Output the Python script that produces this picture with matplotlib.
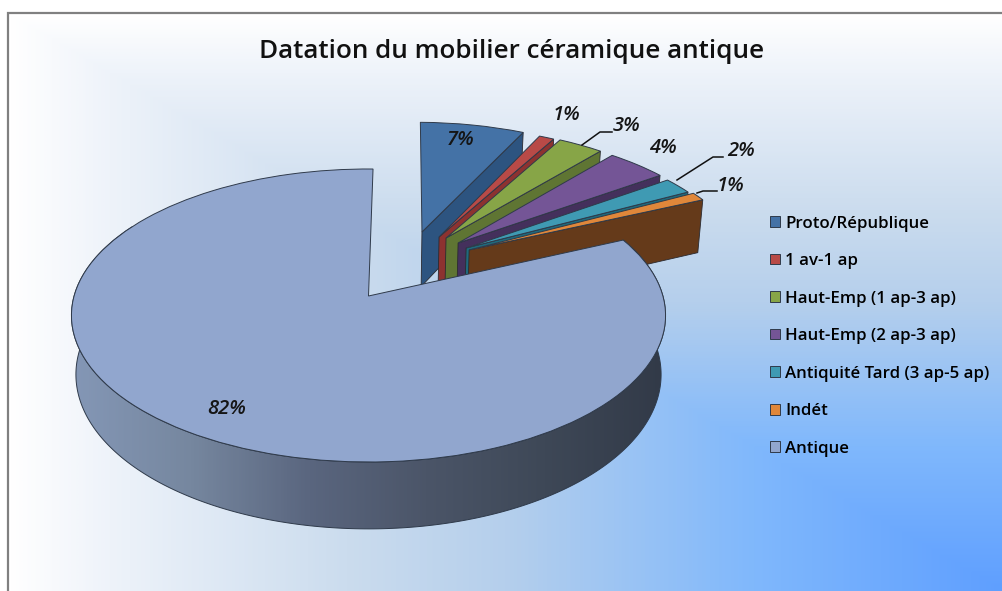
import numpy as np
import matplotlib
matplotlib.use('Agg')
import matplotlib.pyplot as plt
from matplotlib.colors import LinearSegmentedColormap
from matplotlib.patches import Polygon
from matplotlib.transforms import Transform

title = 'Datation du mobilier céramique antique'
categories = ['Proto/République', '1 av-1 ap', 'Haut-Emp (1 ap-3 ap)', 'Haut-Emp (2 ap-3 ap)',
              'Antiquité Tard (3 ap-5 ap)', 'Indét', 'Antique']
values = [7, 1, 3, 4, 2, 1, 82]
pct_labels = ['7%', '1%', '3%', '4%', '2%', '1%', '82%']

top_colors = ['#4472a6', '#b84a47', '#87a547', '#745596', '#3f9ab3', '#e0873a', '#91a6ce']
side_colors = ['#2d5480', '#8d3230', '#5f7533', '#44305c', '#1f6a7d', '#653a1a', '#4b5568']

# where each slice was pulled to, in disc units
slice_centers = [(.193, .473), (.2535, .4336), (.2783, .4258), (.320, .387), (.347, .349), (.357, .334), (0, 0)]
slice_radius = [.965, .97, .97, .97, .965, .975, 1.0]

label_pos = [(461, 140), (567, 115), (627, 126), (663, 148), (741, 151), (731, 186), (227, 409)]
leaders = {2: [(582, 145), (600, 132), (612, 132)],
           4: [(677, 180), (713, 157), (723, 157)],
           5: [(697, 193), (703, 191), (717, 191)]}

CX, CY = 368.5, 296.0
A, B, K = 294.4, 143.9, 0.133
DEPTH = 58.0


class Persp(Transform):
    input_dims = 2
    output_dims = 2
    has_inverse = False

    def __init__(self, sx=1.0, drop=0.0):
        super().__init__()
        self.sx = sx
        self.drop = drop

    def transform_non_affine(self, xy):
        xy = np.asarray(xy, dtype=float)
        w = 1 + K * xy[:, 1]
        return np.column_stack([CX + self.sx * A * xy[:, 0] / w, CY - (B * xy[:, 1] - self.drop) / w])


upper = Persp()
lower = Persp(.985, DEPTH)

fig = plt.figure(figsize=(10.03, 5.91), dpi=100)
ax = fig.add_axes([0, 0, 1, 1])

wedges, _ = ax.pie(values, colors=top_colors, startangle=89, counterclock=False,
                   wedgeprops={'edgecolor': '#2f3a4a', 'linewidth': 0.7})

ax.set_aspect('auto')
ax.set_xlim(0, 1003)
ax.set_ylim(591, 0)
ax.axis('off')

# background, rectangular gradient from the top left corner
yy, xx = np.mgrid[0:1:300j, 0:1:500j]
bg_cmap = LinearSegmentedColormap.from_list('bg', [(0, '#ffffff'), (.1, '#eef3fa'), (.34, '#cbdcee'),
                                                    (.5, '#b5cfec'), (.75, '#80b8fc'), (1, '#5f9fff')])
ax.imshow(np.minimum(xx, yy), cmap=bg_cmap, vmin=0, vmax=1, extent=(8, 1003, 591, 13), aspect='auto',
          interpolation='bilinear', zorder=0)
ax.plot([8, 8, 1003], [591, 13, 13], color='#808080', lw=1.6, zorder=1, solid_joinstyle='miter')

for i, w in enumerate(wedges):
    w.set_center(slice_centers[i])
    w.set_radius(slice_radius[i])
    w.set_transform(upper + ax.transData)
    w.set_zorder(3 + 2 * i)
    cx, cy = slice_centers[i]
    r = slice_radius[i]
    if i < len(wedges) - 1:
        # only the right hand cut face shows on the pulled out slices
        a = np.radians(w.theta1)
        face = np.array([[cx, cy], [cx + r * np.cos(a), cy + r * np.sin(a)]])
        pts = np.vstack([upper.transform(face), lower.transform(face)[::-1]])
        ax.add_patch(Polygon(pts, closed=True, facecolor=side_colors[i], edgecolor='#2a2a30', lw=0.6,
                             zorder=2 + 2 * i))
    else:
        # front rim only, the back of it is hidden under the top anyway
        t = np.radians(np.linspace(w.theta1 + 60, w.theta2, 300))
        rim = np.column_stack([np.cos(t), np.sin(t)])
        pts = np.vstack([upper.transform(rim), lower.transform(rim)[::-1]])
        side = Polygon(pts, closed=True, facecolor='none', edgecolor='#2f3a4a', lw=0.7, zorder=2 + 2 * i + .5,
                       transform=ax.transData)
        ax.add_patch(side)
        side_cmap = LinearSegmentedColormap.from_list('side', ['#8497b6', '#76879f', '#5a667f', '#4b5568',
                                                                '#3e4857', '#323a48'])
        im = ax.imshow(np.linspace(0, 1, 300).reshape(1, -1), cmap=side_cmap, extent=(71, 665, 560, 160),
                       aspect='auto', zorder=2 + 2 * i)
        im.set_clip_path(side)
ax.set_xlim(0, 1003)
ax.set_ylim(591, 0)

ax.text(512, 52, title, ha='center', va='center', fontsize=18.7, family='Open Sans', weight='semibold',
        color='#111111', zorder=40)

for (x, y), s in zip(label_pos, pct_labels):
    ax.text(x, y, s, ha='center', va='center', fontsize=14.5, family='Open Sans', style='italic',
            weight='semibold', color='#151515', zorder=40)

for pts in leaders.values():
    ax.plot([p[0] for p in pts], [p[1] for p in pts], color='#111111', lw=1.1, zorder=39)

leg = ax.legend(wedges, categories, loc='upper left', bbox_to_anchor=(770 / 1003, 1 - 215.5 / 591),
                frameon=False, prop={'family': 'Open Sans', 'size': 12.2, 'weight': 'semibold'},
                handlelength=0.6, handleheight=0.6, handletextpad=0.3, labelspacing=1.27,
                borderaxespad=0, borderpad=0)
leg.set_zorder(40)

fig.savefig('out.png', dpi=100)
